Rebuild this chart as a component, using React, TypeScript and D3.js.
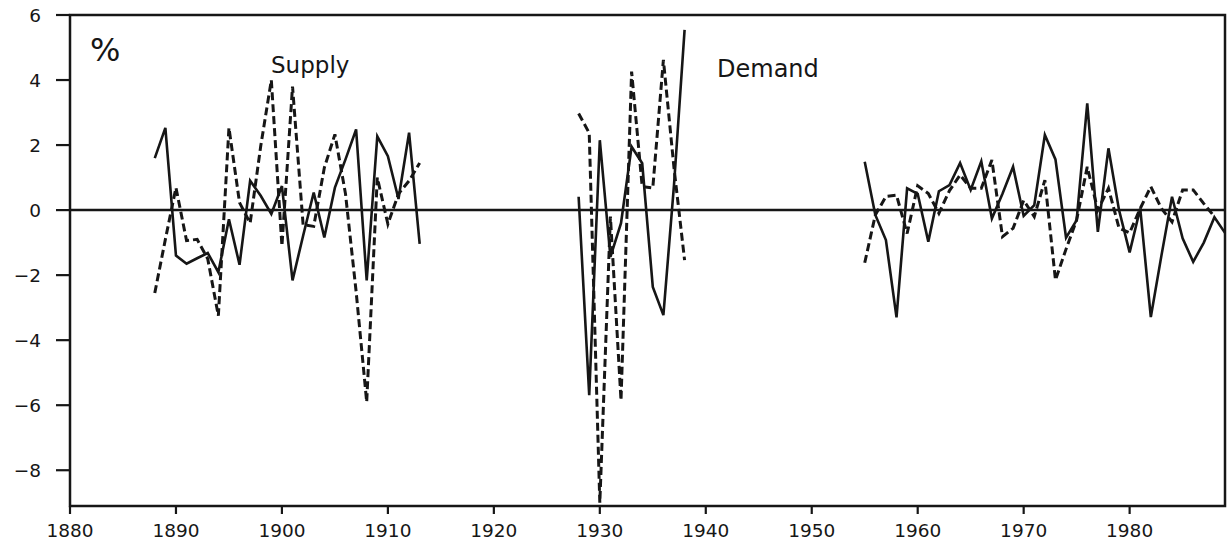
import React from "react";
import * as d3 from "d3";

// Segment start years (annual data)
const startA = 1888;
const startB = 1928;
const startC = 1955;

// Demand (solid) — % deviations
const demandA = [1.6, 2.53, -1.4, -1.65, -1.48, -1.32, -1.91, -0.28, -1.68, 0.9, 0.44, -0.12, 0.74, -2.16, -0.79, 0.54, -0.84, 0.69, 1.56, 2.48, -2.16, 2.27, 1.66, 0.34, 2.38, -1.04];
const demandB = [0.41, -5.69, 2.15, -1.44, -0.4, 1.95, 1.44, -2.36, -3.23, 0.77, 5.54];
const demandC = [1.49, -0.15, -0.92, -3.3, 0.67, 0.5, -0.97, 0.58, 0.77, 1.45, 0.62, 1.5, -0.26, 0.5, 1.33, -0.18, 0.15, 2.31, 1.56, -0.85, -0.31, 3.28, -0.67, 1.9, 0.0, -1.3, 0.05, -3.29, -1.4, 0.41, -0.87, -1.59, -1.0, -0.22, -0.7];

// Supply (dashed)
const supplyA = [-2.55, -0.9, 0.69, -0.94, -0.9, -1.5, -3.25, 2.53, 0.23, -0.4, 1.97, 4.0, -1.1, 3.8, -0.45, -0.5, 1.3, 2.33, 0.5, -2.5, -5.9, 1.0, -0.43, 0.5, 0.9, 1.45];
const supplyB = [2.97, 2.37, -9.0, -0.2, -5.85, 4.26, 0.72, 0.68, 4.62, 1.3, -1.54];
const supplyC = [-1.62, -0.15, 0.42, 0.46, -0.72, 0.75, 0.51, -0.1, 0.6, 1.08, 0.67, 0.67, 1.54, -0.82, -0.56, 0.3, -0.2, 0.92, -2.15, -1.2, -0.3, 1.33, 0.0, 0.67, -0.55, -0.7, 0.05, 0.72, 0.05, -0.36, 0.62, 0.62, 0.2, -0.2];

const xTicks = [1880, 1890, 1900, 1910, 1920, 1930, 1940, 1950, 1960, 1970, 1980];
const yTicks = [-8, -6, -4, -2, 0, 2, 4, 6];

const FONT = "'DejaVu Sans', sans-serif";
const INK = "#161616";

export default function App() {
  const W = 1230;
  const H = 544;
  const left = 70;
  const right = 1225;
  const top = 15;
  const bottom = 506;

  const x = d3.scaleLinear().domain([1880, 1989]).range([left, right]);
  const y = d3.scaleLinear().domain([-9.1, 6]).range([bottom, top]);

  const toPts = (start: number, vals: number[]) => vals.map((v, i) => [start + i, v] as [number, number]);
  const line = d3
    .line<[number, number]>()
    .x((d) => x(d[0]))
    .y((d) => y(d[1]));

  const demand = [toPts(startA, demandA), toPts(startB, demandB), toPts(startC, demandC)];
  const supply = [toPts(startA, supplyA), toPts(startB, supplyB), toPts(startC, supplyC)];

  return (
    <svg
      width={W}
      height={H}
      viewBox={`0 0 ${W} ${H}`}
      style={{ position: "absolute", left: 0, top: 0, background: "#fff" }}
    >
      <rect x={0} y={0} width={W} height={H} fill="#fff" />
      {/* frame */}
      <rect
        x={left}
        y={top}
        width={right - left}
        height={bottom - top}
        fill="none"
        stroke={INK}
        strokeWidth={2.5}
      />
      {/* zero line */}
      <line x1={left} x2={right} y1={y(0)} y2={y(0)} stroke={INK} strokeWidth={2.5} />

      {/* y ticks */}
      {yTicks.map((t) => (
        <g key={"y" + t}>
          <line x1={left - 14} x2={left} y1={y(t)} y2={y(t)} stroke={INK} strokeWidth={2.2} />
          <text
            x={41}
            y={y(t)}
            textAnchor="end"
            dominantBaseline="central"
            fontFamily={FONT}
            fontSize={18.5}
            fill={INK}
          >
            {t < 0 ? "\u2212" + Math.abs(t) : String(t)}
          </text>
        </g>
      ))}

      {/* x ticks */}
      {xTicks.map((t) => (
        <g key={"x" + t}>
          <line x1={x(t)} x2={x(t)} y1={bottom} y2={bottom + 8} stroke={INK} strokeWidth={2.2} />
          <text
            x={x(t)}
            y={537}
            textAnchor="middle"
            fontFamily={FONT}
            fontSize={18.5}
            fill={INK}
          >
            {t}
          </text>
        </g>
      ))}

      {/* supply (dashed) */}
      {supply.map((seg, i) => (
        <path
          key={"s" + i}
          d={line(seg) || ""}
          fill="none"
          stroke={INK}
          strokeWidth={3}
          strokeDasharray="8,4"
          strokeLinejoin="miter"
        />
      ))}

      {/* demand (solid) */}
      {demand.map((seg, i) => (
        <path
          key={"d" + i}
          d={line(seg) || ""}
          fill="none"
          stroke={INK}
          strokeWidth={2.6}
          strokeLinejoin="miter"
        />
      ))}

      {/* labels */}
      <text x={90} y={61} fontFamily={FONT} fontSize={32} fill={INK}>
        %
      </text>
      <text x={271} y={73} fontFamily={FONT} fontSize={23} fill={INK}>
        Supply
      </text>
      <text x={717} y={77} fontFamily={FONT} fontSize={24} fill={INK}>
        Demand
      </text>
    </svg>
  );
}
